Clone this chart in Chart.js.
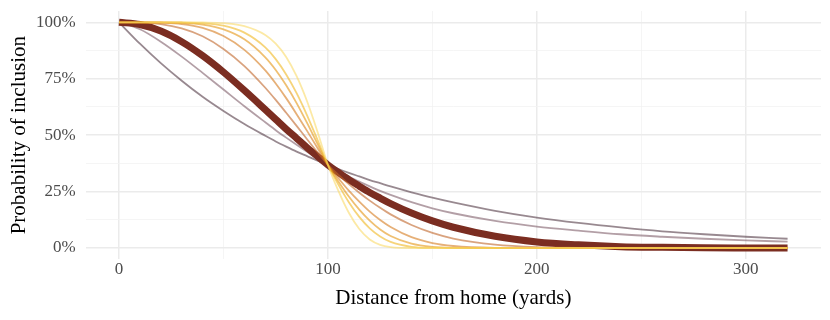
<!DOCTYPE html>
<html lang="en">
<head>
    <meta charset="utf-8">
    <title>Probability of inclusion by distance</title>
    <script src="https://cdn.jsdelivr.net/npm/chart.js@4.4.0/dist/chart.umd.min.js"></script>
    <style>
        body { margin: 0; background: #fff; }
        #wrap { width: 830px; height: 320px; }
    </style>
</head>
<body>
<div id="wrap"><canvas id="chart"></canvas></div>
<script>
  // distance from home (yards)
  var distance = [0, 10, 20, 30, 40, 50, 60, 70, 75, 80, 85, 90, 95, 100, 105, 110, 115, 120, 125, 130,
    140, 150, 160, 180, 200, 220, 240, 260, 280, 300, 320];

  // probability of inclusion (%), one curve each
  var curveGrey = [100, 90.5, 81.9, 74.1, 67.0, 60.7, 54.9, 49.7, 47.2, 44.9, 42.7, 40.7, 38.7, 36.8, 35.0, 33.3,
    31.7, 30.1, 28.7, 27.3, 24.7, 22.3, 20.2, 16.5, 13.5, 11.1, 9.1, 7.4, 6.1, 5.0, 4.1];
  var curveMauve = [100, 96.9, 91.4, 84.8, 77.6, 70.2, 62.8, 55.7, 52.2, 48.9, 45.7, 42.6, 39.6, 36.8, 34.1, 31.7,
    29.4, 27.3, 25.3, 23.5, 20.3, 17.6, 15.4, 12.0, 9.5, 7.7, 6.1, 5.0, 4.1, 3.4, 2.8];
  var curveRed = [100, 99.0, 96.1, 91.4, 85.2, 77.9, 69.8, 61.3, 57.0, 52.7, 48.6, 44.5, 40.6, 36.8, 33.5, 30.3,
    27.4, 24.6, 22.1, 19.7, 15.5, 12.0, 9.2, 5.2, 2.7, 1.4, 0.6, 0.3, 0.1, 0.05, 0.02];
  var curveTan = [100, 99.9, 99.2, 97.3, 93.8, 88.2, 80.6, 71.0, 65.6, 59.9, 54.1, 48.2, 42.4, 36.8, 32.4, 28.3,
    24.5, 21.0, 17.8, 14.9, 10.2, 6.7, 4.2, 1.5, 0.4, 0.1, 0, 0, 0, 0, 0];
  var curveOrange = [100, 100, 99.8, 99.2, 97.5, 93.9, 87.8, 78.7, 72.9, 66.4, 59.3, 51.9, 44.3, 36.8, 30.9, 25.4,
    20.5, 16.1, 12.4, 9.3, 4.8, 2.2, 0.9, 0.1, 0, 0, 0, 0, 0, 0, 0];
  var curveAmber = [100, 100, 100, 99.8, 99.0, 96.9, 92.5, 84.5, 78.9, 72.1, 64.2, 55.4, 46.1, 36.8, 29.5, 22.8,
    17.0, 12.1, 8.2, 5.3, 1.9, 0.5, 0.1, 0, 0, 0, 0, 0, 0, 0, 0];
  var curveGold = [100, 100, 100, 99.9, 99.6, 98.5, 95.4, 88.9, 83.7, 76.9, 68.6, 58.8, 47.9, 36.8, 28.1, 20.3,
    13.8, 8.7, 5.1, 2.7, 0.55, 0.07, 0, 0, 0, 0, 0, 0, 0, 0, 0];
  var curvePale = [100, 100, 100, 100, 99.9, 99.6, 98.3, 94.4, 90.5, 84.6, 76.1, 65.0, 51.5, 36.8, 25.3, 15.6,
    8.4, 3.8, 1.4, 0.4, 0, 0, 0, 0, 0, 0, 0, 0, 0, 0, 0];

  var xTicks = [0, 50, 100, 150, 200, 250, 300];
  var yTicks = [0, 12.5, 25, 37.5, 50, 62.5, 75, 87.5, 100];

  function points(values) {
    return distance.map(function (d, i) {
      return {x: d, y: values[i]};
    });
  }

  function curve(values, color, width) {
    return {
      data: points(values),
      borderColor: color,
      borderWidth: width,
      pointRadius: 0,
      fill: false,
      cubicInterpolationMode: 'monotone'
    };
  }

  // first dataset is painted on top
  var datasets = [
    curve(curvePale, 'rgba(250,218,105,0.6)', 1.8),
    curve(curveGold, 'rgba(240,183,33,0.6)', 1.8),
    curve(curveAmber, 'rgba(228,150,20,0.6)', 1.8),
    curve(curveOrange, 'rgba(213,123,30,0.6)', 1.8),
    curve(curveTan, 'rgba(192,102,42,0.6)', 1.8),
    curve(curveRed, '#7b2d21', 7),
    curve(curveMauve, 'rgba(128,95,107,0.6)', 1.8),
    curve(curveGrey, 'rgba(68,40,53,0.55)', 1.8)
  ];

  var serif = "'Liberation Serif', 'DejaVu Serif', serif";

  function majorX(v) { return v % 100 === 0; }
  function majorY(v) { return v % 25 === 0; }

  new Chart(document.getElementById('chart'), {
    type: 'line',
    data: {datasets: datasets},
    options: {
      responsive: true,
      maintainAspectRatio: false,
      animation: false,
      layout: {padding: {left: 0, right: 9, top: 11, bottom: 0}},
      plugins: {legend: {display: false}, tooltip: {enabled: false}},
      scales: {
        x: {
          type: 'linear',
          min: -16,
          max: 336,
          afterBuildTicks: function (scale) {
            scale.ticks = xTicks.map(function (v) { return {value: v}; });
          },
          afterFit: function (scale) {
            scale.height = 60.7;
            scale.paddingLeft = 0;
            scale.paddingRight = 0;
          },
          border: {display: false},
          grid: {
            drawTicks: false,
            color: function (c) { return majorX(c.tick.value) ? '#ebebeb' : '#f2f2f2'; },
            lineWidth: function (c) { return majorX(c.tick.value) ? 1.5 : 0.8; }
          },
          ticks: {
            padding: 0,
            color: '#4d4d4d',
            font: {family: serif, size: 17},
            callback: function (v) { return majorX(v) ? String(v) : ''; }
          },
          title: {
            display: true,
            text: 'Distance from home (yards)',
            color: '#000',
            font: {family: serif, size: 21},
            padding: {top: 0, bottom: 9}
          }
        },
        y: {
          type: 'linear',
          min: -5,
          max: 105,
          afterBuildTicks: function (scale) {
            scale.ticks = yTicks.map(function (v) { return {value: v}; });
          },
          afterFit: function (scale) {
            scale.width = 85.6;
            scale.paddingTop = 0;
            scale.paddingBottom = 0;
          },
          border: {display: false},
          grid: {
            drawTicks: false,
            color: function (c) { return majorY(c.tick.value) ? '#ebebeb' : '#f2f2f2'; },
            lineWidth: function (c) { return majorY(c.tick.value) ? 1.5 : 0.8; }
          },
          ticks: {
            padding: 10,
            color: '#4d4d4d',
            font: {family: serif, size: 17},
            callback: function (v) { return majorY(v) ? v + '%' : ''; }
          },
          title: {
            display: true,
            text: 'Probability of inclusion',
            color: '#000',
            font: {family: serif, size: 21},
            padding: {top: 7, bottom: 0}
          }
        }
      }
    }
  });
</script>
</body>
</html>
